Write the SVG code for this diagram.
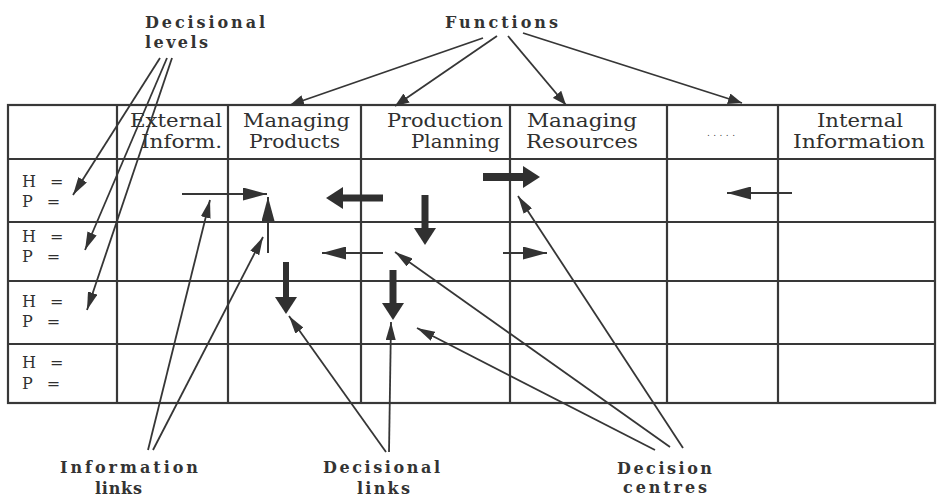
<svg xmlns="http://www.w3.org/2000/svg" width="939" height="498" viewBox="0 0 939 498">
<style>
.grid{stroke:#383838;stroke-width:2.2;fill:none}
.hdr{font-family:"DejaVu Serif","Liberation Serif",serif;font-size:18px;fill:#303030}
.hp{font-family:"DejaVu Serif","Liberation Serif",serif;font-size:16px;fill:#303030}
.lbl{font-family:"DejaVu Serif","Liberation Serif",serif;font-size:16px;font-weight:bold;fill:#333}
.call{stroke:#363636;stroke-width:1.8;fill:none}
.thin{stroke:#363636;stroke-width:2;fill:none}
.thick{stroke:#303030;fill:none}
</style>
<defs>
<marker id="ah" viewBox="0 0 18 10" refX="18" refY="5" markerWidth="18" markerHeight="10" markerUnits="userSpaceOnUse" orient="auto"><path d="M0,0 L18,5 L0,10 z" fill="#333"/></marker>
<marker id="af" viewBox="0 0 14 11" refX="14" refY="5.5" markerWidth="14" markerHeight="11" markerUnits="userSpaceOnUse" orient="auto"><path d="M0,0 L14,5.5 L0,11 z" fill="#333"/></marker>
<marker id="as" viewBox="0 0 24 13" refX="24" refY="6.5" markerWidth="24" markerHeight="13" markerUnits="userSpaceOnUse" orient="auto"><path d="M0,0 L24,6.5 L0,13 z" fill="#333"/></marker>
<marker id="ab" viewBox="0 0 17 22" refX="0" refY="11" markerWidth="17" markerHeight="22" markerUnits="userSpaceOnUse" orient="auto"><path d="M0,0 L17,11 L0,22 z" fill="#303030"/></marker>
</defs>
<rect width="939" height="498" fill="#fff"/>
<g id="table">
<rect class="grid" x="8" y="105" width="927" height="298"/>
<line class="grid" x1="8" y1="159" x2="935" y2="159"/>
<line class="grid" x1="8" y1="222" x2="935" y2="222"/>
<line class="grid" x1="8" y1="281" x2="935" y2="281"/>
<line class="grid" x1="8" y1="344" x2="935" y2="344"/>
<line class="grid" x1="117" y1="105" x2="117" y2="403"/>
<line class="grid" x1="228" y1="105" x2="228" y2="403"/>
<line class="grid" x1="361" y1="105" x2="361" y2="403"/>
<line class="grid" x1="510" y1="105" x2="510" y2="403"/>
<line class="grid" x1="667" y1="105" x2="667" y2="403"/>
<line class="grid" x1="778" y1="105" x2="778" y2="403"/>
</g>
<g id="headers">
<g id="col-external"><text class="hdr" x="130" y="127" textLength="92" lengthAdjust="spacingAndGlyphs">External</text><text class="hdr" x="141" y="148" textLength="81" lengthAdjust="spacingAndGlyphs">Inform.</text></g>
<g id="col-managing-products"><text class="hdr" x="243" y="127" textLength="107" lengthAdjust="spacingAndGlyphs">Managing</text><text class="hdr" x="249" y="148" textLength="91" lengthAdjust="spacingAndGlyphs">Products</text></g>
<g id="col-production-planning"><text class="hdr" x="387" y="127" textLength="116" lengthAdjust="spacingAndGlyphs">Production</text><text class="hdr" x="411" y="148" textLength="89" lengthAdjust="spacingAndGlyphs">Planning</text></g>
<g id="col-managing-resources"><text class="hdr" x="527" y="127" textLength="110" lengthAdjust="spacingAndGlyphs">Managing</text><text class="hdr" x="526" y="148" textLength="112" lengthAdjust="spacingAndGlyphs">Resources</text></g>
<g id="col-dots"><text x="707" y="136" font-family="DejaVu Sans, sans-serif" font-size="9" fill="#444" textLength="28" lengthAdjust="spacing">.....</text></g>
<g id="col-internal"><text class="hdr" x="817" y="127" textLength="86" lengthAdjust="spacingAndGlyphs">Internal</text><text class="hdr" x="793" y="148" textLength="132" lengthAdjust="spacingAndGlyphs">Information</text></g>
</g>
<g id="levels">
<g id="level-1"><text class="hp" x="22" y="187" word-spacing="9">H =</text><text class="hp" x="22" y="207" word-spacing="9">P =</text></g>
<g id="level-2"><text class="hp" x="22" y="242" word-spacing="9">H =</text><text class="hp" x="22" y="262" word-spacing="9">P =</text></g>
<g id="level-3"><text class="hp" x="22" y="307" word-spacing="9">H =</text><text class="hp" x="22" y="327" word-spacing="9">P =</text></g>
<g id="level-4"><text class="hp" x="22" y="368" word-spacing="9">H =</text><text class="hp" x="22" y="389" word-spacing="9">P =</text></g>
</g>
<g id="labels">
<g id="lbl-decisional-levels"><text class="lbl" x="145" y="28" textLength="120" lengthAdjust="spacing">Decisional</text><text class="lbl" x="145" y="48" textLength="63" lengthAdjust="spacing">levels</text></g>
<g id="lbl-functions"><text class="lbl" x="445" y="28" textLength="113" lengthAdjust="spacing">Functions</text></g>
<g id="lbl-information-links"><text class="lbl" x="60" y="473" textLength="138" lengthAdjust="spacing">Information</text><text class="lbl" x="95" y="494" textLength="47" lengthAdjust="spacing">links</text></g>
<g id="lbl-decisional-links"><text class="lbl" x="323" y="473" textLength="117" lengthAdjust="spacing">Decisional</text><text class="lbl" x="357" y="494" textLength="53" lengthAdjust="spacing">links</text></g>
<g id="lbl-decision-centres"><text class="lbl" x="617" y="474" textLength="95" lengthAdjust="spacing">Decision</text><text class="lbl" x="623" y="493" textLength="84" lengthAdjust="spacing">centres</text></g>
</g>
<g id="connectors">
<line class="call" x1="160" y1="58" x2="73" y2="195" marker-end="url(#ah)"/>
<line class="call" x1="167" y1="58" x2="85" y2="250" marker-end="url(#ah)"/>
<line class="call" x1="172" y1="58" x2="87" y2="310" marker-end="url(#ah)"/>
<line class="call" x1="483" y1="38" x2="290" y2="105" marker-end="url(#af)"/>
<line class="call" x1="497" y1="36" x2="395" y2="106" marker-end="url(#af)"/>
<line class="call" x1="508" y1="36" x2="566" y2="105" marker-end="url(#af)"/>
<line class="call" x1="523" y1="33" x2="742" y2="103" marker-end="url(#af)"/>
<line class="call" x1="148" y1="450" x2="210" y2="200" marker-end="url(#ah)"/>
<line class="call" x1="153" y1="450" x2="263" y2="237" marker-end="url(#ah)"/>
<line class="call" x1="386" y1="452" x2="289" y2="316" marker-end="url(#ah)"/>
<line class="call" x1="389" y1="452" x2="391" y2="322" marker-end="url(#ah)"/>
<line class="call" x1="683" y1="448" x2="518" y2="196" marker-end="url(#ah)"/>
<line class="call" x1="670" y1="447" x2="395" y2="252" marker-end="url(#ah)"/>
<line class="call" x1="655" y1="450" x2="417" y2="328" marker-end="url(#ah)"/>
<line class="thin" x1="182" y1="194" x2="267" y2="194" marker-end="url(#as)"/>
<line class="thin" x1="268" y1="253" x2="268" y2="197" marker-end="url(#as)"/>
<line class="thin" x1="383" y1="253" x2="322" y2="253" stroke-width="3" marker-end="url(#as)"/>
<line class="thin" x1="792" y1="193" x2="727" y2="193" stroke-width="3" marker-end="url(#as)"/>
<line class="thin" x1="503" y1="253" x2="547" y2="253" stroke-width="1.5" marker-end="url(#as)"/>
<line class="thick" x1="383" y1="198" x2="343" y2="198" stroke-width="7" marker-end="url(#ab)"/>
<line class="thick" x1="286" y1="262" x2="286" y2="297" stroke-width="6" marker-end="url(#ab)"/>
<line class="thick" x1="425" y1="195" x2="425" y2="228" stroke-width="7" marker-end="url(#ab)"/>
<line class="thick" x1="483" y1="177" x2="523" y2="177" stroke-width="8" marker-end="url(#ab)"/>
<line class="thick" x1="393" y1="270" x2="393" y2="303" stroke-width="7" marker-end="url(#ab)"/>
</g>
</svg>
